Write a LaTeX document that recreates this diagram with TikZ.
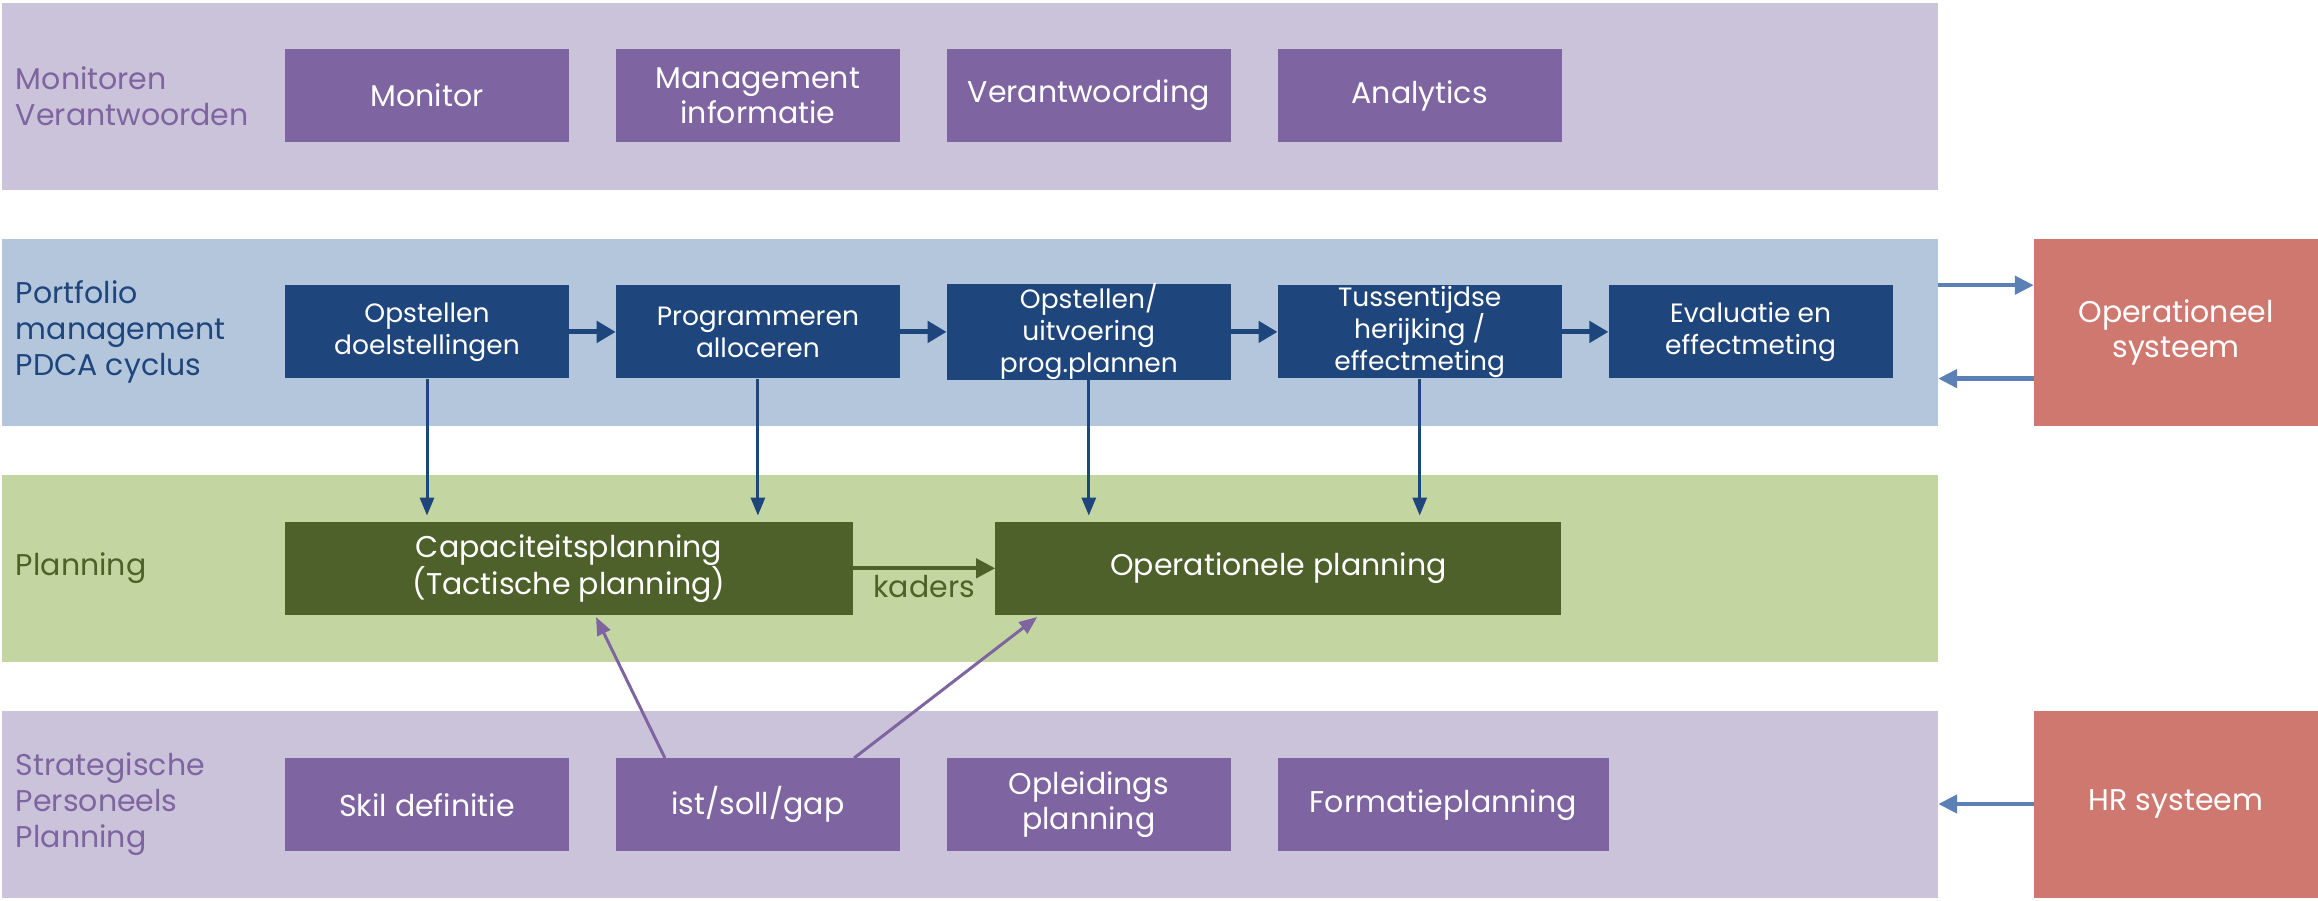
\documentclass[tikz,border=0pt]{standalone}
\usepackage{fontspec}
\setmainfont{Poppins}
\usetikzlibrary{arrows.meta, positioning}

\definecolor{lilaband}{HTML}{CBC3DA}
\definecolor{lilabox}{HTML}{7E64A0}
\definecolor{blueband}{HTML}{B3C6DC}
\definecolor{bluebox}{HTML}{1F467C}
\definecolor{greenband}{HTML}{C3D6A1}
\definecolor{greenbox}{HTML}{4F612B}
\definecolor{sysred}{HTML}{CF786F}
\definecolor{sysblue}{HTML}{5B80B5}

\begin{document}
\begin{tikzpicture}[
    x=1pt, y=1pt,
    node distance=143pt and 46.5pt,
    band/.style={
        rectangle,
        minimum width=1936pt,
        minimum height=187pt,
        inner sep=0pt
    },
    box/.style={
        rectangle,
        align=center,
        text=white,
        minimum width=284pt,
        minimum height=93pt,
        inner sep=0pt,
        font=\fontsize{30}{35}\selectfont
    },
    lbox/.style={box, fill=lilabox},
    bbox/.style={box, fill=bluebox, font=\fontsize{26.5}{32}\selectfont},
    gbox/.style={box, fill=greenbox},
    sysbox/.style={box, fill=sysred, minimum width=284pt, minimum height=187pt},
    sidelbl/.style={align=left, inner sep=0pt, font=\fontsize{30}{36}\selectfont},
    flowarrow/.style={bluebox, line width=5pt, -{Triangle[length=19pt, width=21pt]}},
    downarrow/.style={bluebox, line width=3pt, -{Triangle[length=18pt, width=14pt]}, shorten >=6pt},
    kaderarrow/.style={greenbox, line width=4pt, -{Triangle[length=19pt, width=19pt]}},
    gaparrow/.style={lilabox, line width=3pt, -{Triangle[length=18pt, width=14pt]}},
    sysarrow/.style={sysblue, line width=4.5pt, -{Triangle[length=19pt, width=18pt]}}
]
\useasboundingbox (0,0) rectangle (2318,-900);

% Bands
\node[band, fill=lilaband] (monband) at (970,-96) {};
\node[band, fill=blueband] (pfband) at (970,-332) {};
\node[band, fill=greenband] (planband) at (970,-568.5) {};
\node[band, fill=lilaband] (spband) at (970,-804) {};

\node[sidelbl, text=lilabox, right=14pt of monband.west] (monlbl) {Monitoren\\Verantwoorden};
\node[sidelbl, text=bluebox, right=14pt of pfband.west] (pflbl) {Portfolio\\management\\PDCA cyclus};
\node[sidelbl, text=greenbox, right=14pt of planband.west] (planlbl) {Planning};
\node[sidelbl, text=lilabox, right=14pt of spband.west] (splbl) {Strategische\\Personeels\\Planning};

% Systems
\node[sysbox] (opsys) at (2176,-332) {Operationeel\\systeem};
\node[sysbox] (hrsys) at (2176,-804) {HR systeem};

% Row 1
\node[lbox] (monitor) at (427,-95.5) {Monitor};
\node[lbox] (mi) [right=of monitor] {Management\\informatie};
\node[lbox] (verantw) [right=of mi] {Verantwoording};
\node[lbox] (analytics) [right=of verantw] {Analytics};

% Row 2
\node[bbox] (doel) [below=of monitor] {Opstellen\\doelstellingen};
\node[bbox] (prog) [right=of doel] {Programmeren\\alloceren};
\node[bbox] (uitv) [right=of prog] {Opstellen/\\uitvoering\\prog.plannen};
\node[bbox] (herijk) [right=of uitv] {Tussentijdse\\herijking /\\effectmeting};
\node[bbox] (eval) [right=of herijk] {Evaluatie en\\effectmeting};

% Row 3
\node[gbox, minimum width=568pt] (cap) [below=of doel.south west, anchor=north west] {Capaciteitsplanning\\(Tactische planning)};
\node[gbox, minimum width=566pt] (oper) [right=142pt of cap] {Operationele planning};

% Row 4
\node[lbox] (skil) [below=of cap.south west, anchor=north west] {Skil definitie};
\node[lbox] (gap) [right=of skil] {ist/soll/gap};
\node[lbox] (opl) [right=of gap] {Opleidings\\planning};
\node[lbox, minimum width=331pt] (formatie) [right=of opl] {Formatieplanning};

% Arrows
\draw[flowarrow] (doel) -- (prog);
\draw[flowarrow] (prog) -- (uitv);
\draw[flowarrow] (uitv) -- (herijk);
\draw[flowarrow] (herijk) -- (eval);

\draw[downarrow] (doel) -- (doel |- cap.north);
\draw[downarrow] (prog) -- (prog |- cap.north);
\draw[downarrow] (uitv) -- (uitv |- oper.north);
\draw[downarrow] (herijk) -- (herijk |- oper.north);

\draw[kaderarrow] (cap) -- node[below=5pt, text=greenbox, inner sep=0pt, font=\fontsize{30}{35}\selectfont] {kaders} (oper);

\draw[gaparrow] ([xshift=-93pt]gap.north) -- ([xshift=27pt, yshift=-2pt]cap.south);
\draw[gaparrow] ([xshift=-46pt]gap.north east) -- ([xshift=42pt, yshift=-2pt]oper.south west);

\draw[sysarrow] (pfband.east |- doel.north) -- (opsys.west |- doel.north);
\draw[sysarrow] (opsys.west |- doel.south) -- (pfband.east |- doel.south);
\draw[sysarrow] (hrsys) -- (spband);

\end{tikzpicture}
\end{document}
